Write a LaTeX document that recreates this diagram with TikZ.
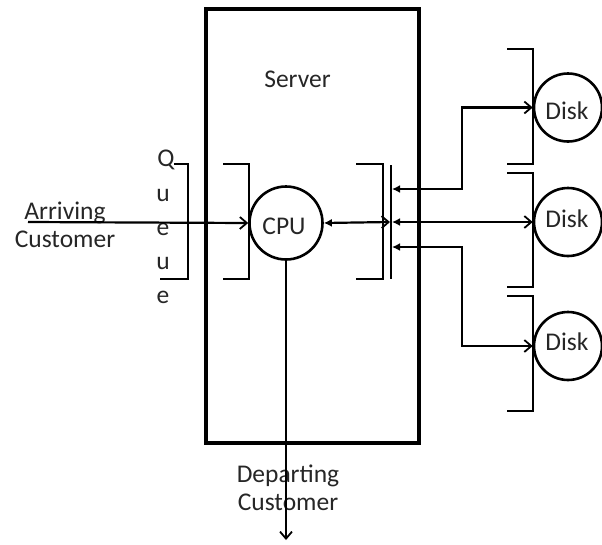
\documentclass[tikz,border=0pt]{standalone}
\usepackage{fontspec}
\setmainfont{Carlito}
\usetikzlibrary{arrows.meta}
\tikzset{
  mybarb/.tip={Straight Barb[length=7pt,width=12pt,line width=1.8pt]},
  myfill/.tip={Latex[length=8pt,width=8pt]}
}
\begin{document}
\begin{tikzpicture}[x=1pt,y=-1pt,
  every node/.style={font=\fontsize{25.5}{30}\selectfont, inner sep=0pt},
  thin line/.style={line width=2.2pt},
  box line/.style={line width=3.2pt},
  ring/.style={circle, draw, line width=2.6pt, inner sep=0pt},
  txt/.style={anchor=base, text=black!85},
  bracket/.style={thin line}
]
\useasboundingbox (0,0) rectangle (602,544);
% server box
\node[draw, box line, minimum width=213pt, minimum height=434pt] (server) at (312.5,226) {};
\node[txt] (servertxt) at (297.5,87) {Server};
% CPU
\node[ring, minimum size=73pt] (cpu) at (286,223) {};
\node[txt] (cputxt) at (284,234) {CPU};
% disks
\node[ring, minimum size=68pt] (d1) at (568,107.5) {};
\node[ring, minimum size=68pt] (d2) at (568,222) {};
\node[ring, minimum size=68pt] (d3) at (568,346) {};
\node[txt] (d1t) at (567,119) {Disk};
\node[txt] (d2t) at (567,227) {Disk};
\node[txt] (d3t) at (567,350) {Disk};
% queue letters
\node[txt] (q1) at (166,166) {Q};
\node[txt] (q2) at (163,201) {u};
\node[txt] (q3) at (163,235) {e};
\node[txt] (q4) at (163,269) {u};
\node[txt] (q5) at (163,303) {e};
% arriving / departing labels
\node[txt] (arr1) at (65,219) {Arriving};
\node[txt] (arr2) at (65,247) {Customer};
\node[txt] (dep1) at (288,482) {Departing};
\node[txt] (dep2) at (288,510) {Customer};
% brackets
\draw[bracket] (174,164) -- (188,164) -- (188,279) -- (160,279);
\draw[bracket] (223,164) -- (249,164) -- (249,279) -- (223,279);
\draw[bracket] (356,164) -- (383,164) -- (383,279) -- (356,279);
\draw[bracket] (507,49) -- (533,49) -- (533,164) -- (507,164);
\draw[bracket] (507,173) -- (533,173) -- (533,287) -- (507,287);
\draw[bracket] (507,296) -- (533,296) -- (533,411) -- (507,411);
% bus
\coordinate (bustop) at (391,165);
\coordinate (busbot) at (391,279);
\draw[thin line] (bustop) -- (busbot);
% connector points
\coordinate (arrin) at (28,222);
\coordinate (depout) at (286,540);
\coordinate (busc) at (390,222);
\coordinate (b1) at (392,189);
\coordinate (b2) at (392,222);
\coordinate (b3) at (392,247);
% connectors
\draw[thin line, -{mybarb}] (arrin) -- (cpu.west);
\draw[thin line, -{mybarb}] (cpu.south) -- (depout);
\draw[thin line, {myfill}-{mybarb}] (cpu.east) -- (busc);
\draw[thin line, {myfill}-{mybarb}] (b1) -- (462,189) |- (d1.west);
\draw[thin line, {myfill}-{mybarb}] (b2) -- (d2.west);
\draw[thin line, {myfill}-{mybarb}] (b3) -- (462,247) |- (d3.west);
\end{tikzpicture}
\end{document}
